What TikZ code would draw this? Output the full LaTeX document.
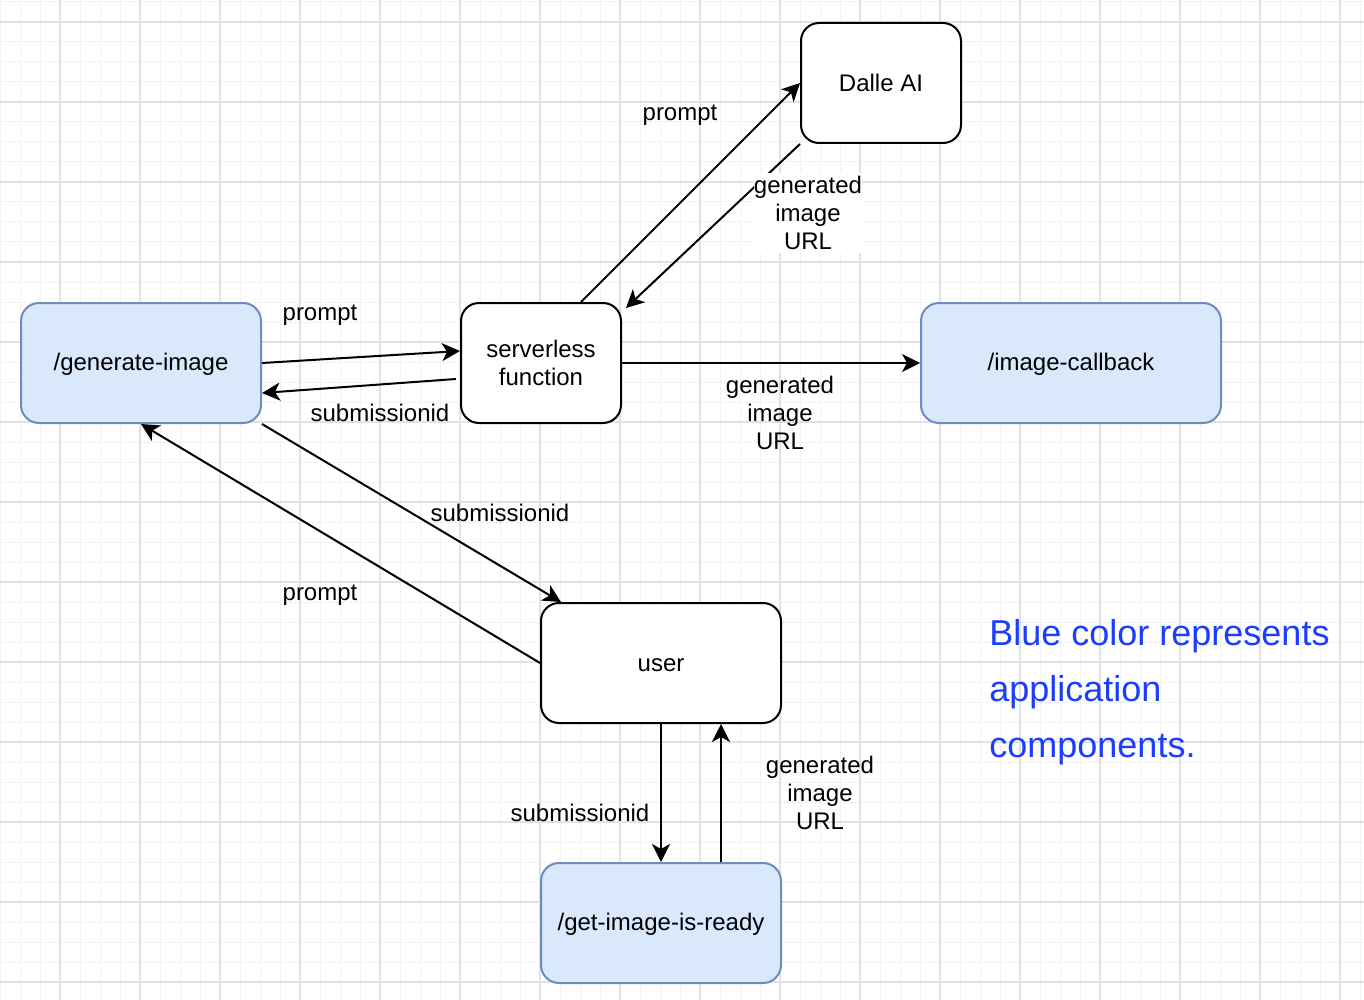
\documentclass[tikz,border=0pt]{standalone}
\usepackage{fontspec}
\setmainfont{Liberation Sans}
\usetikzlibrary{arrows.meta,calc}
\definecolor{bluefill}{HTML}{DAE8FC}
\definecolor{bluedraw}{HTML}{6C8EBF}
\definecolor{bluetext}{HTML}{1A3DFF}
\definecolor{gridminor}{HTML}{F2F2F2}
\definecolor{gridmajor}{HTML}{E2E2E2}
\newcommand{\ts}{\rule{0pt}{10pt}}
\newcommand{\bs}{\rule[-1.7pt]{0pt}{1.7pt}}
\newcommand{\tsb}{\rule{0pt}{15pt}}
\newcommand{\bsb}{\rule[-2.5pt]{0pt}{2.5pt}}
\begin{document}
\begin{tikzpicture}[x=0.5pt,y=-0.5pt,
  every node/.style={font=\fontsize{12pt}{14pt}\selectfont},
  box/.style={draw=black, line width=1pt, rounded corners=9pt, fill=white,
    minimum width=80pt, minimum height=60pt, inner sep=0pt, align=center},
  appbox/.style={box, fill=bluefill, draw=bluedraw},
  lbl/.style={inner sep=0.5pt, align=center},
  conn/.style={line width=1pt, -{Stealth[length=9pt,width=9pt,inset=2.5pt]}}
]
\useasboundingbox (0,0) rectangle (1364,1000);
\fill[white] (0,0) rectangle (1364,1000);
% grid
\foreach \gx in {0,20,...,1360} \draw[gridminor, line width=0.5pt] (\gx,0) -- (\gx,1000);
\foreach \gy in {2,22,...,1000} \draw[gridminor, line width=0.5pt] (0,\gy) -- (1364,\gy);
\foreach \gx in {60,140,...,1360} \draw[gridmajor, line width=0.6pt] (\gx,0) -- (\gx,1000);
\foreach \gy in {22,102,...,1000} \draw[gridmajor, line width=0.6pt] (0,\gy) -- (1364,\gy);

% nodes
\node[box] (dalle) at (881,83) {\ts Dalle AI\bs};
\node[box] (srv) at (541,363) {\ts serverless\\function\bs};
\node[appbox, minimum width=120pt] (gen) at (141,363) {\ts/generate-image\bs};
\node[appbox, minimum width=150pt] (cb) at (1071,363) {\ts/image-callback\bs};
\node[box, minimum width=120pt] (user) at (661,663) {\ts user\bs};
\node[appbox, minimum width=120pt] (ready) at (661,923) {\ts/get-image-is-ready\bs};

% connectors
\draw[conn] (gen.east) -- ([yshift=6pt]srv.west);
\draw[conn] ([xshift=-2pt,yshift=-8pt]srv.west) -- ([yshift=-15pt]gen.east);
\draw[conn] ([xshift=20pt]srv.north) -- (dalle.west);
\draw[conn] (dalle.south west) -- ([xshift=2pt,yshift=-3pt]srv.north east);
\draw[conn] (srv.east) -- (cb.west);
\draw[conn] (gen.south east) -- ([xshift=-50pt]user.north);
\draw[conn] (user.west) -- (gen.south);
\draw[conn] (user.south) -- (ready.north);
\draw[conn] ([xshift=30pt]ready.north) -- ([xshift=30pt]user.south);

% labels
\node[lbl] (l1) at (680,113) {\ts prompt\bs};
\node[lbl, fill=white, inner sep=0pt] (l2) at (808,213) {\ts generated\\image\\URL\bs};
\node[lbl] (l3) at (320,313) {\ts prompt\bs};
\node[lbl] (l4) at (380,413) {\ts submissionid\bs};
\node[lbl] (l5) at (780,413) {\ts generated\\image\\URL\bs};
\node[lbl] (l6) at (500,513) {\ts submissionid\bs};
\node[lbl] (l7) at (320,593) {\ts prompt\bs};
\node[lbl] (l8) at (580,813) {\ts submissionid\bs};
\node[lbl] (l9) at (820,793) {\ts generated\\image\\URL\bs};

% legend
\node[anchor=west, inner sep=0pt, align=left, text=bluetext,
  font=\fontsize{18pt}{28pt}\selectfont] (legend) at (989,690)
  {\tsb Blue color represents\\application\\components.\bsb};
\end{tikzpicture}
\end{document}
